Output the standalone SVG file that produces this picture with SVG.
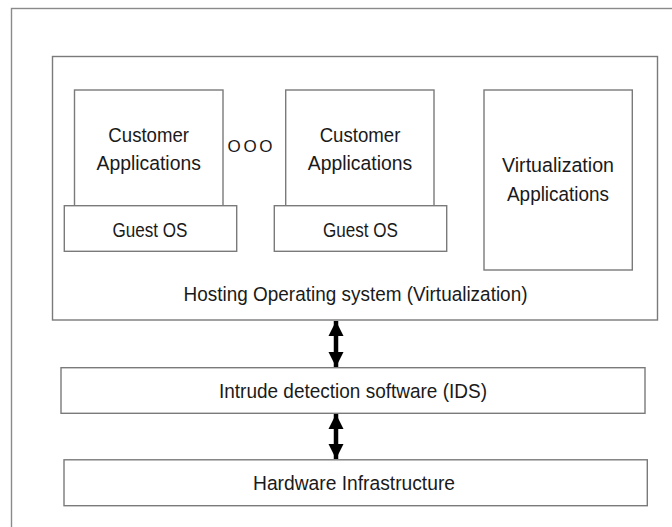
<svg xmlns="http://www.w3.org/2000/svg" width="672" height="527" viewBox="0 0 672 527">
  <style>
    .box { fill: #ffffff; stroke: #7a7a7a; stroke-width: 1.4; }
    .frame { fill: #ffffff; stroke: #8a8a8a; stroke-width: 1.4; }
    .lbl { font-family: "Liberation Sans", Arial, sans-serif; font-size: 20.5px; fill: #1a1a1a; text-anchor: middle; }
    .dots { font-family: "Liberation Sans", Arial, sans-serif; font-size: 17px; fill: #1a1a1a; text-anchor: middle; }
    .link { stroke: #000000; stroke-width: 4.5; fill: none; marker-start: url(#head); marker-end: url(#head); }
  </style>
  <defs>
    <marker id="head" viewBox="0 0 10 10" refX="10" refY="5" markerWidth="15" markerHeight="16" markerUnits="userSpaceOnUse" orient="auto-start-reverse">
      <path d="M0,0 L10,5 L0,10 Z" fill="#000000"/>
    </marker>
  </defs>

  <rect x="0" y="0" width="672" height="527" fill="#ffffff"/>

  <!-- outer frame, runs off the right and bottom edges -->
  <rect class="frame" x="11.5" y="8.5" width="700" height="560"/>

  <g id="hosting-os">
    <rect class="box" x="52.5" y="56.5" width="605" height="263.5"/>
    <text class="lbl" x="355.5" y="301" textLength="344" lengthAdjust="spacingAndGlyphs">Hosting Operating system (Virtualization)</text>
  </g>

  <g id="customer-apps-1">
    <rect class="box" x="74.5" y="90" width="148.5" height="116"/>
    <text class="lbl" x="148.7" y="141.5" textLength="80.7" lengthAdjust="spacingAndGlyphs">Customer</text>
    <text class="lbl" x="148.7" y="170" textLength="104.3" lengthAdjust="spacingAndGlyphs">Applications</text>
  </g>

  <g id="guest-os-1">
    <rect class="box" x="64.3" y="205.7" width="172.4" height="45.6"/>
    <text class="lbl" x="150" y="236.7" textLength="75" lengthAdjust="spacingAndGlyphs">Guest OS</text>
  </g>

  <g id="ellipsis">
    <text class="dots" x="250" y="151.5" textLength="45" lengthAdjust="spacing">OOO</text>
  </g>

  <g id="customer-apps-2">
    <rect class="box" x="285.7" y="90" width="148.3" height="116"/>
    <text class="lbl" x="360" y="141.5" textLength="80.7" lengthAdjust="spacingAndGlyphs">Customer</text>
    <text class="lbl" x="360" y="170" textLength="104.3" lengthAdjust="spacingAndGlyphs">Applications</text>
  </g>

  <g id="guest-os-2">
    <rect class="box" x="274.3" y="205.7" width="172.4" height="45.6"/>
    <text class="lbl" x="360.5" y="236.7" textLength="75" lengthAdjust="spacingAndGlyphs">Guest OS</text>
  </g>

  <g id="virtualization-apps">
    <rect class="box" x="484" y="90" width="148.3" height="180"/>
    <text class="lbl" x="558" y="172" textLength="112" lengthAdjust="spacingAndGlyphs">Virtualization</text>
    <text class="lbl" x="558" y="201" textLength="102" lengthAdjust="spacingAndGlyphs">Applications</text>
  </g>

  <g id="ids">
    <rect class="box" x="61" y="367.7" width="584" height="45.6"/>
    <text class="lbl" x="353" y="398.3" textLength="268" lengthAdjust="spacingAndGlyphs">Intrude detection software (IDS)</text>
  </g>

  <g id="hardware">
    <rect class="box" x="64" y="459.8" width="583.3" height="45.9"/>
    <text class="lbl" x="354" y="490" textLength="202" lengthAdjust="spacingAndGlyphs">Hardware Infrastructure</text>
  </g>

  <g id="connectors">
    <line class="link" x1="336" y1="321" x2="336" y2="367"/>
    <line class="link" x1="336" y1="414" x2="336" y2="459"/>
  </g>
</svg>
